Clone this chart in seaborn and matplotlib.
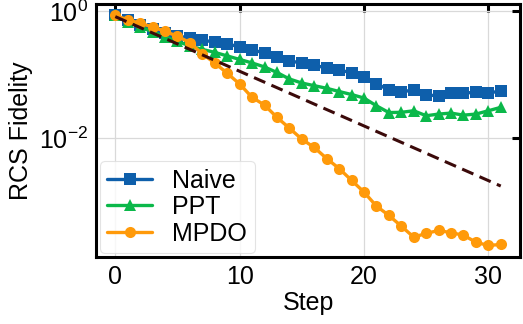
import numpy as np
import pandas as pd
import matplotlib
matplotlib.use("Agg")
import matplotlib.pyplot as plt
import seaborn as sns

steps = list(range(32))
naive = [0.865, 0.726, 0.616, 0.523, 0.453, 0.413, 0.380, 0.351, 0.332, 0.309,
         0.277, 0.248, 0.223, 0.189, 0.169, 0.152, 0.141, 0.130, 0.119, 0.109,
         0.094, 0.073, 0.058, 0.0533, 0.059, 0.0483, 0.0471, 0.052, 0.0514, 0.0538,
         0.052, 0.0559]
ppt = [0.865, 0.688, 0.573, 0.478, 0.398, 0.338, 0.287, 0.253, 0.227, 0.1996,
       0.1757, 0.1547, 0.1338, 0.1095, 0.0865, 0.0747, 0.0678, 0.0617, 0.0549, 0.0492,
       0.0433, 0.0327, 0.0256, 0.0258, 0.0273, 0.0228, 0.0242, 0.0251, 0.0233, 0.0242,
       0.0273, 0.0309]
mpdo = [0.865, 0.739, 0.651, 0.573, 0.487, 0.406, 0.323, 0.2147, 0.1547, 0.1064,
        0.0721, 0.0444, 0.0336, 0.0215, 0.01455, 0.00975, 0.00721, 0.00483, 0.00336, 0.00219,
        0.00143, 0.000861, 0.000614, 0.000416, 0.000279, 0.000319, 0.000356, 0.000327, 0.0003, 0.000232,
        0.000206, 0.000214]
fit_steps = [0, 31]
fit_vals = [0.83, 0.00178]

sns.set_style("white")
plt.rcParams['font.family'] = ['Liberation Sans', 'DejaVu Sans']
plt.rcParams['mathtext.fontset'] = 'custom'
plt.rcParams['mathtext.rm'] = 'Liberation Sans'
plt.rcParams['mathtext.it'] = 'Liberation Sans:italic'
plt.rcParams['text.color'] = 'black'
plt.rcParams['axes.labelcolor'] = 'black'
plt.rcParams['xtick.color'] = 'black'
plt.rcParams['ytick.color'] = 'black'

fig = plt.figure(figsize=(5.23, 3.24), dpi=100)
ax = fig.add_axes([0.1836, 0.2068, 0.8107, 0.7809])

c_naive = "#0e5fab"
c_ppt = "#0bb84a"
c_mpdo = "#ff9a0a"

lw = 2.4
ms = 8
sns.lineplot(x=steps, y=naive, ax=ax, color=c_naive, marker='s', markersize=ms,
             markeredgewidth=0, linewidth=lw, label='Naive')
sns.lineplot(x=steps, y=ppt, ax=ax, color=c_ppt, marker='^', markersize=ms + 1,
             markeredgewidth=0, linewidth=lw, label='PPT')
sns.lineplot(x=steps, y=mpdo, ax=ax, color=c_mpdo, marker='o', markersize=ms,
             markeredgewidth=0, linewidth=lw, label='MPDO')
sns.lineplot(x=fit_steps, y=fit_vals, ax=ax, color="#3b0a0a", linewidth=2.2,
             linestyle=(0, (4, 2.2)))

ax.set_yscale('log')
ax.set_xticks([0, 10, 20, 30])
ax.yaxis.set_major_locator(matplotlib.ticker.LogLocator(base=10, numticks=3))
ax.yaxis.set_minor_locator(matplotlib.ticker.NullLocator())
ax.grid(True, color='#d9d9d9', linewidth=0.9)
ax.set_axisbelow(True)

for s in ax.spines.values():
    s.set_linewidth(2.2)
    s.set_color('black')
ax.tick_params(direction='in', length=6, width=2.2, top=True, right=True,
               labelsize=18, pad=6, colors='black')
ax.set_xlabel('Step', fontsize=18, labelpad=1, color='black')
ax.set_ylabel('RCS Fidelity', fontsize=18, labelpad=4, color='black')

leg = ax.legend(loc='lower left', fontsize=18, handlelength=1.8, labelspacing=0.1,
                borderaxespad=0.15, handletextpad=0.8, borderpad=0.3, frameon=True)
leg.get_frame().set_edgecolor('#dddddd')
leg.get_frame().set_linewidth(0.8)
for t in leg.get_texts():
    t.set_color('black')

fig.savefig('out.png', dpi=100)
